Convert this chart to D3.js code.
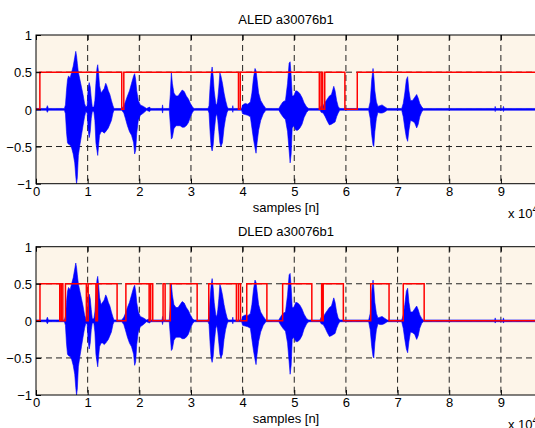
<!DOCTYPE html>
<html><head><meta charset="utf-8">
<script src="https://cdn.jsdelivr.net/npm/d3@7"></script>
<style>body{margin:0;background:#fff}svg{display:block}text{font-family:"Liberation Sans",Arial,sans-serif;fill:#000}</style>
</head><body><svg id="c" width="535" height="428"></svg>
<script>
// x values in units of 10^4 samples
const xTicks = [0,1,2,3,4,5,6,7,8,9];
const yTicks = [-1,-0.5,0,0.5,1];
const titles = ["ALED a30076b1","DLED a30076b1"];
// speech waveform envelope (upper / lower)
const waveX = [0,0.20,0.22,0.24,0.55,0.57,0.59,0.61,0.63,0.66,0.69,0.72,0.75,0.77,0.785,0.80,0.82,0.85,0.88,0.91,0.94,0.965,0.99,1.01,1.03,1.05,1.07,1.09,1.12,1.14,1.16,1.18,1.195,1.21,1.23,1.26,1.29,1.32,1.35,1.37,1.40,1.43,1.46,1.49,1.51,1.66,1.70,1.73,1.77,1.81,1.85,1.89,1.91,1.93,1.95,1.98,2.02,2.08,2.14,2.20,2.22,2.44,2.45,2.46,2.58,2.60,2.62,2.64,2.67,2.71,2.75,2.79,2.83,2.87,2.91,2.95,2.99,3.03,3.06,3.33,3.35,3.37,3.39,3.41,3.43,3.45,3.48,3.50,3.52,3.54,3.56,3.58,3.61,3.64,3.67,3.70,3.72,3.80,3.81,3.82,3.98,4.00,4.05,4.10,4.15,4.18,4.21,4.24,4.26,4.28,4.31,4.35,4.40,4.45,4.70,4.74,4.78,4.83,4.87,4.90,4.92,4.94,4.96,4.99,5.03,5.07,5.11,5.15,5.19,5.24,5.28,5.50,5.52,5.56,5.60,5.64,5.68,5.72,5.765,5.79,5.82,5.85,5.88,6.44,6.47,6.50,6.525,6.54,6.56,6.59,6.62,6.66,6.70,6.74,6.80,7.08,7.11,7.14,7.17,7.195,7.22,7.25,7.29,7.33,7.37,7.40,7.43,7.47,7.50,8.88,8.89,8.90,9.04,9.05,9.06,9.68];
const waveUpper = [0.012,0.012,0.05,0.012,0.012,0.06,0.25,0.40,0.45,0.42,0.50,0.58,0.70,0.78,0.72,0.62,0.50,0.40,0.30,0.20,0.08,0.03,0.05,0.30,0.36,0.30,0.15,0.03,0.03,0.12,0.35,0.55,0.60,0.50,0.32,0.22,0.25,0.28,0.35,0.32,0.25,0.20,0.12,0.05,0.012,0.012,0.05,0.10,0.18,0.25,0.35,0.45,0.48,0.40,0.25,0.12,0.06,0.04,0.012,0.03,0.012,0.012,0.06,0.012,0.012,0.20,0.50,0.35,0.22,0.18,0.18,0.22,0.26,0.24,0.18,0.14,0.08,0.03,0.012,0.012,0.05,0.30,0.48,0.57,0.45,0.25,0.08,0.06,0.15,0.30,0.49,0.45,0.35,0.22,0.12,0.04,0.012,0.012,0.05,0.012,0.012,0.06,0.08,0.07,0.10,0.22,0.42,0.55,0.52,0.40,0.22,0.12,0.06,0.012,0.012,0.06,0.10,0.12,0.35,0.62,0.64,0.45,0.18,0.18,0.25,0.24,0.21,0.16,0.09,0.03,0.012,0.012,0.05,0.05,0.10,0.14,0.18,0.20,0.31,0.25,0.12,0.04,0.012,0.012,0.10,0.40,0.55,0.45,0.25,0.10,0.04,0.05,0.06,0.04,0.012,0.012,0.08,0.22,0.40,0.44,0.25,0.12,0.12,0.16,0.20,0.15,0.08,0.03,0.012,0.012,0.04,0.012,0.012,0.04,0.012,0.012];
const waveLower = [-0.012,-0.012,-0.04,-0.012,-0.012,-0.06,-0.30,-0.45,-0.47,-0.48,-0.52,-0.60,-0.72,-0.90,-1.0,-0.92,-0.62,-0.48,-0.35,-0.22,-0.10,-0.03,-0.05,-0.28,-0.38,-0.30,-0.12,-0.03,-0.03,-0.15,-0.45,-0.55,-0.62,-0.50,-0.35,-0.30,-0.30,-0.32,-0.30,-0.28,-0.25,-0.20,-0.15,-0.05,-0.012,-0.012,-0.05,-0.12,-0.22,-0.30,-0.35,-0.45,-0.60,-0.55,-0.32,-0.15,-0.08,-0.05,-0.012,-0.03,-0.012,-0.012,-0.05,-0.012,-0.012,-0.20,-0.40,-0.38,-0.26,-0.22,-0.22,-0.22,-0.24,-0.24,-0.22,-0.18,-0.10,-0.04,-0.012,-0.012,-0.05,-0.30,-0.50,-0.56,-0.48,-0.30,-0.10,-0.06,-0.15,-0.30,-0.45,-0.50,-0.45,-0.25,-0.12,-0.04,-0.012,-0.012,-0.04,-0.012,-0.012,-0.06,-0.07,-0.08,-0.10,-0.25,-0.40,-0.52,-0.59,-0.45,-0.28,-0.15,-0.06,-0.012,-0.012,-0.06,-0.10,-0.14,-0.30,-0.55,-0.72,-0.60,-0.25,-0.22,-0.28,-0.28,-0.25,-0.20,-0.11,-0.04,-0.012,-0.012,-0.04,-0.05,-0.10,-0.16,-0.21,-0.20,-0.18,-0.17,-0.10,-0.05,-0.012,-0.012,-0.12,-0.35,-0.48,-0.50,-0.30,-0.12,-0.04,-0.05,-0.05,-0.04,-0.012,-0.012,-0.10,-0.25,-0.38,-0.43,-0.28,-0.15,-0.16,-0.18,-0.25,-0.20,-0.10,-0.03,-0.012,-0.012,-0.03,-0.012,-0.012,-0.03,-0.012,-0.012];
// VAD decisions (step changes)
const aledX = [0,0.075,1.66,1.70,3.92,3.955,5.485,5.52,5.55,5.59,5.98,6.22,9.68];
const aledV = [0,0.5,0,0.5,0,0.5,0,0.5,0,0.5,0,0.5,0.5];
const dledX = [0,0.077,0.46,0.49,0.52,0.57,0.975,1.01,1.16,1.19,1.57,1.74,2.19,2.22,2.26,2.46,2.50,2.60,3.12,3.345,3.88,3.92,3.96,4.08,4.47,4.775,5.34,5.53,5.54,5.56,5.95,6.48,6.835,7.11,7.515,9.68];
const dledV = [0,0.5,0,0.5,0,0.5,0,0.5,0,0.5,0,0.5,0,0.5,0,0.5,0,0.5,0,0.5,0,0.5,0,0.5,0,0.5,0,0.5,0,0.5,0,0.5,0,0.5,0,0];

const svg = d3.select("#c");
const x = d3.scaleLinear().domain([0,9.68]).range([36,536]);
const panels = [{top:35,bot:183.7,vx:aledX,vv:aledV},{top:246.7,bot:395,vx:dledX,vv:dledV}];
const wave = waveX.map((d,i)=>({x:d,u:waveUpper[i],l:waveLower[i]}));

panels.forEach((p,pi)=>{
  const y = d3.scaleLinear().domain([-1,1]).range([p.bot,p.top]);
  const g = svg.append("g");
  g.append("rect").attr("x",x(0)).attr("y",p.top).attr("width",x(9.68)-x(0)).attr("height",p.bot-p.top).attr("fill","#fdf5e9");
  const cid = "clip"+pi;
  g.append("clipPath").attr("id",cid).append("rect").attr("x",x(0)).attr("y",p.top).attr("width",x(9.68)-x(0)).attr("height",p.bot-p.top);
  g.append("g").selectAll("line").data(xTicks.filter(t=>t>0)).join("line")
    .attr("x1",d=>x(d)).attr("x2",d=>x(d)).attr("y1",p.top).attr("y2",p.bot)
    .attr("stroke","#222").attr("stroke-width",1).attr("stroke-dasharray","6,4");
  g.append("g").selectAll("line").data(yTicks.filter(t=>Math.abs(t)<1)).join("line")
    .attr("x1",x(0)).attr("x2",x(9.68)).attr("y1",d=>y(d)).attr("y2",d=>y(d))
    .attr("stroke","#222").attr("stroke-width",1).attr("stroke-dasharray","6,4");
  const pg = g.append("g").attr("clip-path",`url(#${cid})`);
  pg.append("path").datum(wave)
    .attr("d",d3.area().x(d=>x(d.x)).y0(d=>y(d.l)).y1(d=>y(d.u)))
    .attr("fill","#0000ff").attr("stroke","#0000ff").attr("stroke-width",0.6);
  const steps = p.vx.map((d,i)=>({x:d,v:p.vv[i]}));
  pg.append("path").datum(steps)
    .attr("d",d3.line().x(d=>x(d.x)).y(d=>y(d.v)).curve(d3.curveStepAfter))
    .attr("fill","none").attr("stroke","#ff0000").attr("stroke-width",1.5);
  const ax = g.append("g").attr("transform",`translate(0,${p.bot})`)
    .call(d3.axisBottom(x).tickValues(xTicks).tickSize(-5).tickPadding(3).tickFormat(d3.format("d")));
  const axT = g.append("g").attr("transform",`translate(0,${p.top})`)
    .call(d3.axisTop(x).tickValues(xTicks).tickSize(-5).tickFormat(""));
  const ay = g.append("g").attr("transform",`translate(${x(0)},0)`)
    .call(d3.axisLeft(y).tickValues(yTicks).tickSize(-5).tickPadding(4).tickFormat(d=>d3.format("")(d)));
  [ax,axT,ay].forEach(a=>{a.select(".domain").remove();a.selectAll("line").attr("stroke","#000");a.selectAll("text").style("font-size","13px").attr("fill","#000").style("font-family","'Liberation Sans',Arial,sans-serif");});
  ay.selectAll("text").attr("dy","0.36em");
  g.append("rect").attr("x",x(0)).attr("y",p.top).attr("width",x(9.68)-x(0)).attr("height",p.bot-p.top).attr("fill","none").attr("stroke","#000").attr("stroke-width",1);
  g.append("text").attr("x",286).attr("y",p.top-11).attr("text-anchor","middle").style("font-size","13px").text(titles[pi]);
  g.append("text").attr("x",286).attr("y",p.bot+28).attr("text-anchor","middle").style("font-size","13px").text("samples [n]");
  const ex = g.append("text").attr("x",508).attr("y",p.bot+34).style("font-size","13px");
  ex.append("tspan").text("x 10");
  ex.append("tspan").attr("dy",-5).style("font-size","10px").text("4");
});
</script></body></html>
